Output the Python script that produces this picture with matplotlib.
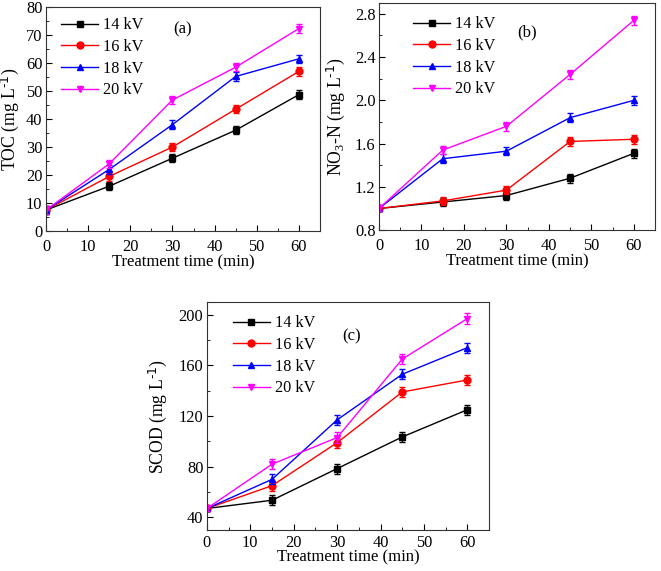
import matplotlib
matplotlib.use("Agg")
import matplotlib.pyplot as plt
from matplotlib.ticker import MultipleLocator

plt.rcParams["font.family"] = ["Liberation Serif", "DejaVu Serif"]
plt.rcParams["mathtext.default"] = "regular"
plt.rcParams["font.size"] = 12

# =========================
# DATA
# =========================
time_min = [0, 15, 30, 45, 60]
labels = ["14 kV", "16 kV", "18 kV", "20 kV"]

toc_14 = [7.5, 16.0, 26.0, 36.0, 48.7]
toc_16 = [7.5, 19.5, 30.0, 43.5, 57.0]
toc_18 = [7.5, 22.0, 38.0, 55.2, 61.5]
toc_20 = [7.5, 24.0, 46.8, 58.5, 72.3]
toc_err = [1.5, 1.5, 1.5, 1.5, 1.5]

no3_14 = [1.00, 1.06, 1.12, 1.28, 1.51]
no3_16 = [1.00, 1.07, 1.17, 1.62, 1.64]
no3_18 = [1.00, 1.46, 1.53, 1.84, 2.00]
no3_20 = [1.00, 1.54, 1.76, 2.24, 2.74]
no3_err = [0.02, 0.04, 0.04, 0.04, 0.04]

scod_14 = [47, 53.5, 78.5, 103.5, 125]
scod_16 = [47, 65, 99, 139, 148.5]
scod_18 = [47, 70, 117, 153, 174]
scod_20 = [47, 82, 103, 165, 197]
scod_err = [2, 4, 4, 4, 4]

colors = ["black", "red", "blue", "#FF00FF"]
markers = ["s", "o", "^", "v"]


def draw_panel(ax, series, err, ylim, ymajor, ylabel, ylab_x, tag, tagpos,
               legpos, xpad=3.5, xlabpad=-1):
    for vals, lab, c, m in zip(series, labels, colors, markers):
        ax.errorbar(time_min, vals, yerr=err, fmt="none", ecolor=c,
                    capsize=2.5, elinewidth=1.0, capthick=1.0)
        ax.plot(time_min, vals, color=c, marker=m, ms=5, lw=1.0, label=lab)
    ax.set_xlim(0, 65)
    ax.set_ylim(*ylim)
    ax.xaxis.set_major_locator(MultipleLocator(10))
    ax.xaxis.set_minor_locator(MultipleLocator(5))
    ax.yaxis.set_major_locator(MultipleLocator(ymajor))
    ax.yaxis.set_minor_locator(MultipleLocator(ymajor / 2))
    ax.tick_params(which="both", direction="in", top=False, right=False,
                   labelsize=11.8)
    ax.tick_params(axis="x", pad=xpad)
    ax.tick_params(axis="y", pad=2.5)
    ax.tick_params(which="major", length=4)
    ax.tick_params(which="minor", length=2.5)
    ax.set_xlabel("Treatment time (min)", fontsize=12, labelpad=xlabpad)
    ax.set_ylabel(ylabel, fontsize=12.7)
    ax.yaxis.set_label_coords(ylab_x, 0.5)
    ax.text(tagpos[0], tagpos[1], tag, transform=ax.transAxes,
            ha="center", va="center", fontsize=12)
    ax.legend(loc="upper left", bbox_to_anchor=legpos, frameon=False,
              fontsize=11.7, handlelength=2.28, handletextpad=0.3,
              labelspacing=0.35, borderaxespad=0)
    for s in ax.spines.values():
        s.set_color("#333333")


fig = plt.figure(figsize=(6.61, 5.71), dpi=100)
ax_a = fig.add_axes([0.0696, 0.5954, 0.4144, 0.3923])
ax_b = fig.add_axes([0.5734, 0.597, 0.4176, 0.3977])
ax_c = fig.add_axes([0.313, 0.0718, 0.427, 0.3992])

draw_panel(ax_a, [toc_14, toc_16, toc_18, toc_20], toc_err, (0, 80), 10,
           "TOC (mg L$^{\\text{-1}}$)", -0.091, "(a)", (0.50, 0.90),
           (0.031, 0.983), xpad=5.5, xlabpad=0)
draw_panel(ax_b, [no3_14, no3_16, no3_18, no3_20], no3_err, (0.8, 2.9), 0.4,
           "NO$_3$-N (mg L$^{\\text{-1}}$)", -0.116, "(b)", (0.535, 0.87),
           (0.10, 0.970), xpad=5.5, xlabpad=0)
draw_panel(ax_c, [scod_14, scod_16, scod_18, scod_20], scod_err, (30, 210), 40,
           "SCOD (mg L$^{\\text{-1}}$)", -0.135, "(c)", (0.514, 0.85),
           (0.069, 0.970))

fig.savefig("out.png", dpi=100)
